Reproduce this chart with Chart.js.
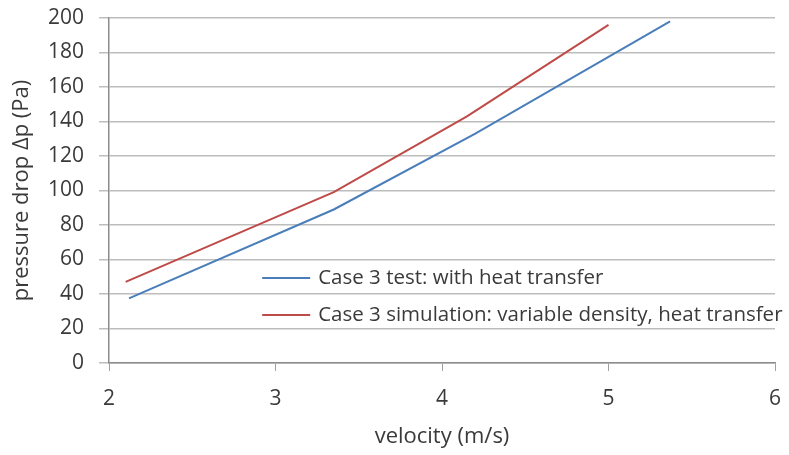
<!DOCTYPE html>
<html>
<head>
    <title>Case 3 pressure drop</title>
    <style>
        body { margin: 0; background: #fff; }
        #wrap { position: relative; width: 789px; height: 455px; }
    </style>
    <script src="https://cdn.jsdelivr.net/npm/chart.js"></script>
</head>
<body>
    <div id="wrap">
        <canvas id="chart1" width="789" height="455"></canvas>
    </div>

    <script>
        var testVelocity = [2.12, 3.35, 4.2, 5.37];
        var testDrop = [37.5, 89, 133, 198];
        var simVelocity = [2.1, 3.35, 4.15, 5.0];
        var simDrop = [47, 99, 143, 196];

        var testLabel = 'Case 3 test: with heat transfer';
        var simLabel = 'Case 3 simulation: variable density, heat transfer';
        var xTitle = 'velocity (m/s)';
        var yTitle = 'pressure drop \u0394p (Pa)';

        function toPoints(xs, ys) {
            var pts = [];
            xs.forEach(function(x, i) {
                pts.push({ x: x, y: ys[i] });
            });
            return pts;
        }

        var fontName = '"Open Sans"';
        var textColor = '#3a3a3a';

        // legend sits inside the plot, so draw it by hand
        var insideLegend = {
            id: 'insideLegend',
            afterDraw: function(chart) {
                var ctx = chart.ctx;
                var x0 = chart.scales.x.getPixelForValue(2.92);
                var y0 = chart.scales.y.getPixelForValue(50.5);
                ctx.save();
                ctx.font = '20.5px ' + fontName;
                ctx.textBaseline = 'middle';
                ctx.fillStyle = textColor;
                chart.data.datasets.forEach(function(ds, i) {
                    var y = y0 + 2 + i * 37;
                    ctx.strokeStyle = ds.borderColor;
                    ctx.lineWidth = 2;
                    ctx.beginPath();
                    ctx.moveTo(x0, y);
                    ctx.lineTo(x0 + 48, y);
                    ctx.stroke();
                    ctx.fillText(ds.label, x0 + 56, y);
                });
                ctx.restore();
            }
        };

        var ctx1 = document.getElementById('chart1').getContext('2d');
        var chart1 = new Chart(ctx1, {
            type: 'line',
            data: {
                datasets: [{
                    label: testLabel,
                    data: toPoints(testVelocity, testDrop),
                    borderColor: '#4a7ebb',
                    borderWidth: 2,
                    pointRadius: 0,
                    fill: false
                }, {
                    label: simLabel,
                    data: toPoints(simVelocity, simDrop),
                    borderColor: '#be4b48',
                    borderWidth: 2,
                    pointRadius: 0,
                    fill: false
                }]
            },
            options: {
                responsive: false,
                animation: false,
                layout: {
                    padding: { top: 18, right: 14, bottom: 0, left: 0 }
                },
                plugins: {
                    legend: { display: false },
                    tooltip: { enabled: false }
                },
                scales: {
                    x: {
                        type: 'linear',
                        min: 2,
                        max: 6,
                        ticks: {
                            stepSize: 1,
                            padding: 15,
                            color: textColor,
                            font: { family: fontName, size: 21 }
                        },
                        grid: {
                            drawOnChartArea: false,
                            tickLength: 8,
                            color: '#a0a0a0'
                        },
                        border: { color: '#8c8c8c', width: 1.5 },
                        title: {
                            display: true,
                            text: xTitle,
                            color: textColor,
                            font: { family: fontName, size: 22 },
                            padding: { top: 0, bottom: 5 }
                        },
                        afterFit: function(scale) {
                            scale.height = 92;
                            scale.paddingLeft = 0;
                            scale.paddingRight = 0;
                        }
                    },
                    y: {
                        min: 0,
                        max: 200,
                        ticks: {
                            stepSize: 20,
                            padding: 15,
                            color: textColor,
                            font: { family: fontName, size: 21 }
                        },
                        grid: {
                            color: '#bdbdbd',
                            lineWidth: 1.5,
                            tickLength: 10
                        },
                        border: { color: '#8c8c8c', width: 1.5 },
                        title: {
                            display: true,
                            text: yTitle,
                            color: textColor,
                            font: { family: fontName, size: 22 },
                            padding: { top: 9, bottom: 0 }
                        },
                        afterFit: function(scale) {
                            scale.width = 109;
                            scale.paddingTop = 0;
                            scale.paddingBottom = 0;
                        }
                    }
                }
            },
            plugins: [insideLegend]
        });
    </script>
</body>
</html>
